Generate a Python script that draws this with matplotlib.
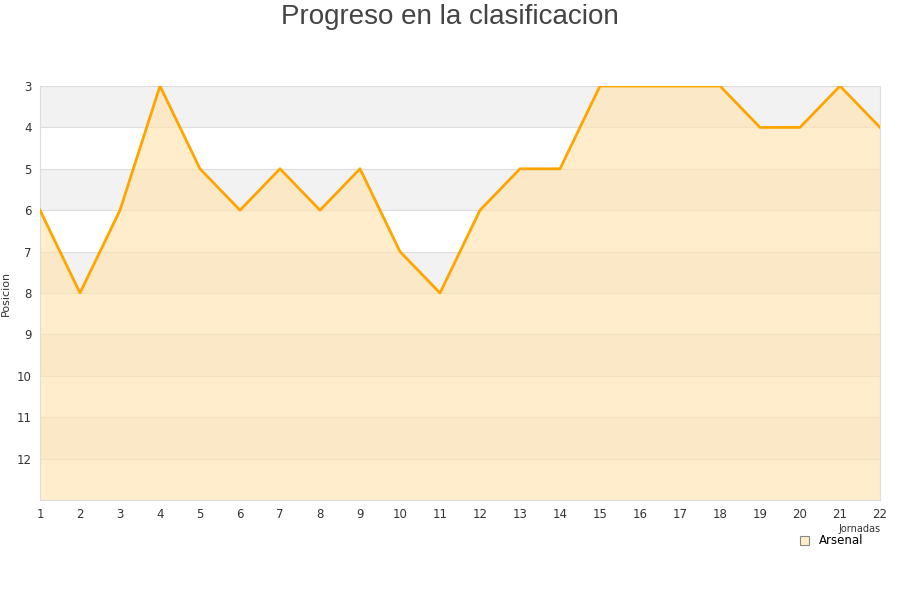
import numpy as np
import matplotlib.pyplot as plt
from matplotlib.patches import Patch

# Jornadas y posiciones del Arsenal
jornadas = list(range(1, 23))
posiciones = [6, 8, 6, 3, 5, 6, 5, 6, 5, 7, 8, 6, 5, 5, 3, 3, 3, 3, 4, 4, 3, 4]
y_ticks = [3, 4, 5, 6, 7, 8, 9, 10, 11, 12]

fig = plt.figure(figsize=(9, 6), dpi=100)
ax = fig.add_axes([40 / 900, 100 / 600, 840 / 900, 414 / 600])

# Alternating bands
for i, y in enumerate(range(3, 13)):
    if i % 2 == 0:
        ax.axhspan(y, y + 1, color="#f2f2f2", zorder=0, lw=0)
for y in range(4, 13):
    ax.axhline(y, color="#dddddd", lw=0.8, zorder=1)

ax.fill_between(jornadas, posiciones, 13, color="#ffe4b0", alpha=0.65, lw=0, zorder=2)
ax.plot(jornadas, posiciones, color="#ffa500", lw=2.0, zorder=3)

ax.set_xlim(1, 22)
ax.set_ylim(13, 3)
ax.set_xticks(jornadas)
ax.set_yticks(y_ticks)
ax.tick_params(length=0, labelsize=8.5, colors="#333333", pad=6)
for s in ax.spines.values():
    s.set_color("#dddddd")

ax.set_ylabel("Posicion", fontsize=8, color="#333333")
ax.yaxis.set_label_coords(-0.035, 0.5)
fig.text(0.5, 0.993, "Progreso en la clasificacion", ha="center", va="top",
         fontsize=20, color="#444444", family="Liberation Sans")

fig.text(0.978, 1 - 529 / 600, "Jornadas", ha="right", va="center", fontsize=7, color="#333333")
leg = ax.legend(handles=[Patch(facecolor="#ffecc8", edgecolor="#888888", lw=0.8, label="Arsenal")],
                loc="center right", bbox_to_anchor=(0.99, -41 / 414), frameon=False,
                fontsize=8.5, handlelength=0.8, handleheight=0.8, borderpad=0.2)
leg.set_zorder(10)

fig.savefig("out.png")
